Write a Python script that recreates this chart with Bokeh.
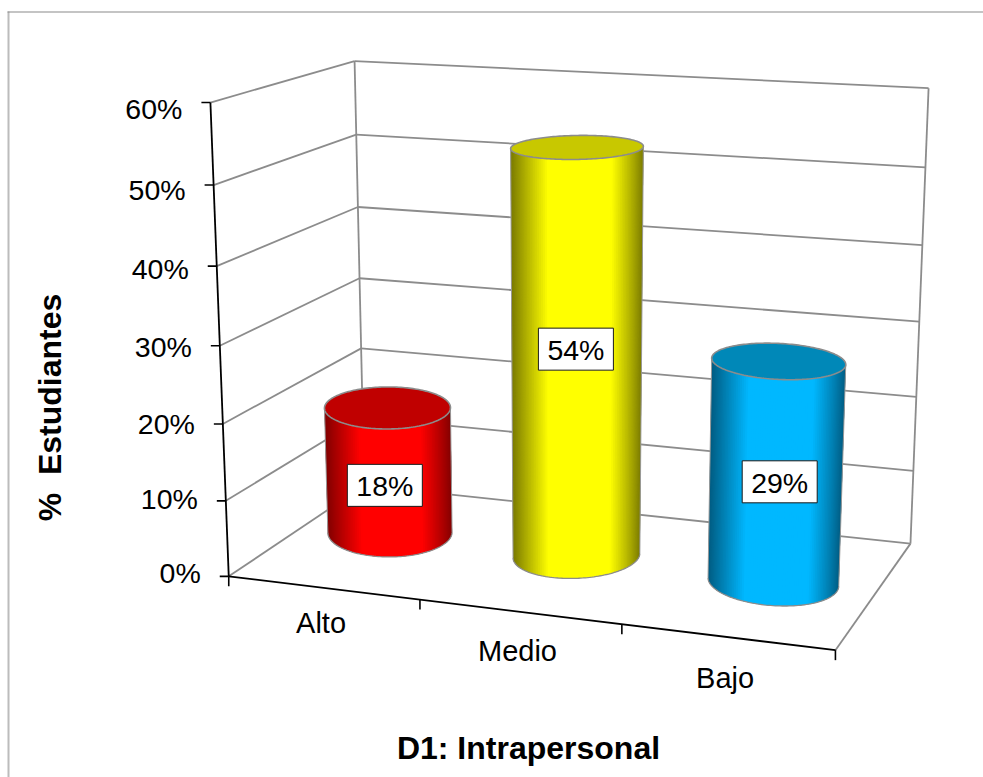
import numpy as np
from bokeh.plotting import figure
from bokeh.models import Range1d
from bokeh.core.properties import value
from bokeh.embed import file_html
from bokeh.resources import INLINE

# ---------- data ----------
categories = ["Alto", "Medio", "Bajo"]
percent_values = [18, 53.6, 28.65]
axis_ticks = [0, 10, 20, 30, 40, 50, 60]
axis_labels = ["0%", "10%", "20%", "30%", "40%", "50%", "60%"]
y_title = "%\u00a0\u00a0Estudiantes"
x_title = "D1: Intrapersonal"
bright_colors = [(255, 0, 0), (255, 255, 0), (0, 184, 255)]
dark_colors = [(130, 0, 0), (122, 122, 0), (0, 92, 130)]
top_colors = ["#c00000", "#c8c800", "#0088b8"]

# ---------- camera: (category pos, depth, value/60) -> page pixels ----------
cal_src = [(0,0,1),(0,0,0),(0,1,1),(0,1,0),(1,1,1),(1,1,0),(1,0,0),
           (1/3,0,0),(2/3,0,0),(0,0,5/6),(1,1,1/3),(1,1,1/6),(1,1,5/6),(0,1,5/6)]
cal_dst = [(209.3,102.5),(229,572),(355,60),(363.5,490),(928.7,88.7),(910,541),(836,653),
           (419,597),(621,625),(212.7,185.7),(915.7,395.7),(912.3,468.7),(924.3,167.3),(355.7,132.3)]
A = []
for (a, b, c), (x, y) in zip(cal_src, cal_dst):
    A.append([a, b, c, 1, 0, 0, 0, 0, -x*a, -x*b, -x*c, -x])
    A.append([0, 0, 0, 0, a, b, c, 1, -y*a, -y*b, -y*c, -y])
H = np.linalg.svd(np.array(A))[2][-1].reshape(3, 4)

def proj(u, w, v):
    u, w, v = np.broadcast_arrays(np.asarray(u, float), np.asarray(w, float), np.asarray(v, float) / 60.0)
    P = H @ np.stack([u, w, v, np.ones_like(u)])
    return P[0] / P[2], P[1] / P[2]

W, H_PX = 983, 777
p = figure(width=W, height=H_PX, x_range=Range1d(0, W), y_range=Range1d(H_PX, 0),
           output_backend="svg", toolbar_location=None, min_border=0,
           background_fill_color="white", border_fill_color="white", outline_line_color=None)
p.xaxis.visible = False
p.yaxis.visible = False
p.grid.visible = False

FONT = value("Liberation Sans")
GRID = "#8c8c8c"
FS = "28.5px"

def seg(a, b, color=GRID, width=1.8):
    xa, ya = proj(*a)
    xb, yb = proj(*b)
    p.line([float(xa), float(xb)], [float(ya), float(yb)], line_color=color, line_width=width)

# chart frame
p.line([8, 8], [11, 777], line_color="#bcbcbc", line_width=2)
p.line([7, 983], [11.5, 11.5], line_color="#8a8a8a", line_width=1.2)

# walls
for t in axis_ticks:
    seg((0, 0, t), (0, 1, t))
    seg((0, 1, t), (1, 1, t))
seg((0, 1, 0), (0, 1, 60))
seg((1, 1, 0), (1, 1, 60))
seg((1, 0, 0), (1, 1, 0))

# axes
seg((0, 0, 0), (0, 0, 60), "#000000", 1.8)
seg((0, 0, 0), (1, 0, 0), "#000000", 1.8)
for t, lab in zip(axis_ticks, axis_labels):
    x, y = proj(0, 0, t)
    x, y = float(x), float(y)
    p.segment([x - 9], [y], [x], [y], line_color="#000000", line_width=1.6)
    p.text([x - 28], [y - 3 + 9 * t / 60], text=[lab], text_font=FONT, text_font_size=FS,
           text_align="right", text_baseline="middle", text_color="#000000")
n = len(categories)
for i in range(n + 1):
    x, y = proj(i / n, 0, 0)
    x, y = float(x), float(y)
    p.segment([x], [y], [x], [y + 10], line_color="#000000", line_width=1.6)
cat_dy = [35, 39, 41]
for i, c in enumerate(categories):
    x, y = proj((i + 0.5) / n, 0, 0)
    p.text([float(x) - 2], [float(y) + cat_dy[i]], text=[c], text_font=FONT, text_font_size="29px",
           text_align="center", text_baseline="middle", text_color="#000000")

# cylinders
RU = [0.1115, 0.102, 0.108]
RW = [0.235, 0.225, 0.21]
SKEW = [-0.05, 0.0, -0.03]
base_lift = [0.95, 0.65, 0.1]
ang = np.linspace(0, 2 * np.pi, 181)

def shade(t, bright, dark):
    if t < 0.28:
        f = t / 0.28
    elif t > 0.76:
        f = ((1 - t) / 0.24) ** 0.9
    else:
        f = 1.0
    return "#%02x%02x%02x" % tuple(int(round(d + (b - d) * f)) for b, d in zip(bright, dark))

label_shift = [(-4, 12), (-1, -9), (4, 9)]
for i, v in enumerate(percent_values):
    uc = (i + 0.5) / n
    us = uc + RU[i] * np.cos(ang)
    ws = 0.5 + RW[i] * np.sin(ang) + SKEW[i] * np.cos(ang)
    xt, yt = proj(us, ws, v)
    xb, yb = proj(us, ws, base_lift[i])
    il, ir = int(np.argmin(xt[:-1])), int(np.argmax(xt[:-1]))
    idx = [(il + k) % 180 for k in range((ir - il) % 180 + 1)]
    xl, xr = xt[il], xt[ir]
    xs, ys, cols = [], [], []
    for j in range(len(idx) - 1):
        a, b = idx[j], idx[j + 1]
        ext = idx[j:j + 4]  # overlap into the next strips so that no seams show
        xs.append([float(xt[k]) for k in ext] + [float(xb[k]) for k in reversed(ext)])
        ys.append([float(yt[k]) for k in ext] + [float(yb[k]) for k in reversed(ext)])
        tt = float(np.clip((0.5 * (xt[a] + xt[b]) - xl) / (xr - xl), 0, 1))
        cols.append(shade(tt, bright_colors[i], dark_colors[i]))
    p.patches(xs, ys, fill_color=cols, line_color=None)
    p.line([float(xt[il]), float(xb[il])], [float(yt[il]), float(yb[il])], line_color="#9a9a9a", line_width=1)
    p.line([float(xt[ir]), float(xb[ir])], [float(yt[ir]), float(yb[ir])], line_color="#9a9a9a", line_width=1)
    p.line([float(xb[k]) for k in idx], [float(yb[k]) for k in idx], line_color="#8c8c8c", line_width=1.3)
    p.patch(xt.tolist(), yt.tolist(), fill_color=top_colors[i], line_color="#8c8c8c", line_width=1.6)

# value labels
for i, v in enumerate(percent_values):
    x, y = proj((i + 0.5) / n, 0.5, v / 2)
    x, y = float(x) + label_shift[i][0], float(y) + label_shift[i][1]
    p.rect([x], [y], width=75, height=42, fill_color="white", line_color="#1a1a1a", line_width=1)
    p.text([x], [y + 1], text=["%d%%" % round(v)], text_font=FONT, text_font_size=FS,
           text_align="center", text_baseline="middle", text_color="#000000")

# titles
p.text([49.5], [407], text=[y_title], angle=[np.pi / 2], text_font=FONT, text_font_size="32px",
       text_font_style="bold", text_align="center", text_baseline="middle", text_color="#000000")
p.text([528], [747], text=[x_title], text_font=FONT, text_font_size="32px",
       text_font_style="bold", text_align="center", text_baseline="middle", text_color="#000000")

open("out.html", "w").write(file_html(p, INLINE))
